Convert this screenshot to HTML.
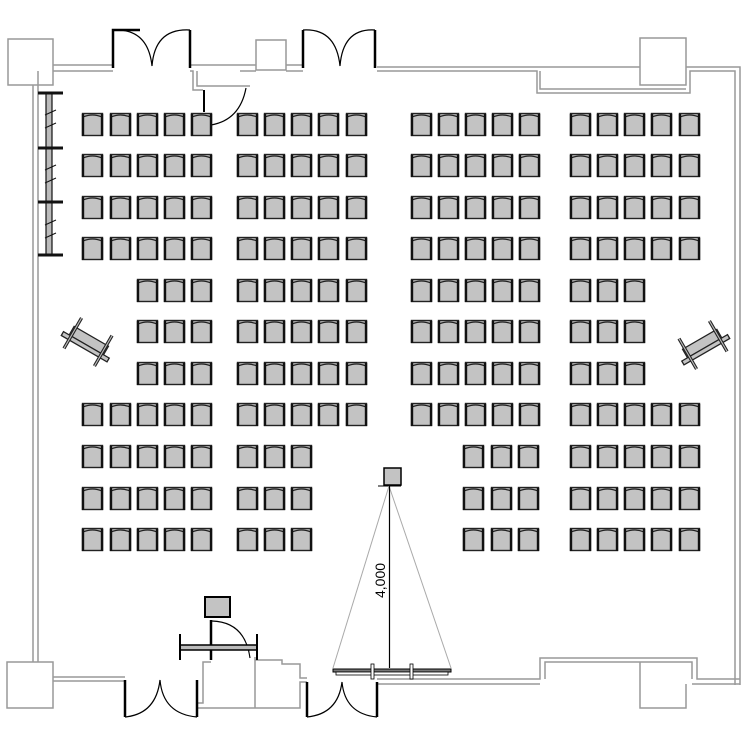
<!DOCTYPE html>
<html><head><meta charset="utf-8"><style>html,body{margin:0;padding:0;background:#fff}svg{display:block}</style></head>
<body>
<svg id="s" xmlns="http://www.w3.org/2000/svg" xmlns:xlink="http://www.w3.org/1999/xlink" width="750" height="750" viewBox="0 0 750 750">
<defs>
<g id="ch">
<rect x="0.5" y="1.5" width="20" height="22" fill="#c3c3c3" stroke="#222" stroke-width="1.4"/>
<path d="M1,5 Q10.5,1 20,5" fill="none" stroke="#222" stroke-width="1.2"/>
<line x1="1" y1="2" x2="1" y2="24" stroke="#111" stroke-width="2.4"/>
<line x1="20" y1="2" x2="20" y2="24" stroke="#111" stroke-width="2.4"/>
</g>
<g id="proj">
<rect x="-18" y="-6" width="36" height="9" fill="#c3c3c3" stroke="#222" stroke-width="1.2"/>
<rect x="-24" y="3" width="48" height="4" fill="#c3c3c3" stroke="#222" stroke-width="1.2"/>
<line x1="-16" y1="-16" x2="-16" y2="16" stroke="#222" stroke-width="3"/>
<line x1="-16" y1="-16" x2="-16" y2="16" stroke="#bbb" stroke-width="1"/>
<line x1="16" y1="-16" x2="16" y2="16" stroke="#222" stroke-width="3"/>
<line x1="16" y1="-16" x2="16" y2="16" stroke="#bbb" stroke-width="1"/>
</g>
</defs>
<g fill="none" stroke="#999" stroke-width="1.5">
<rect x="8" y="39" width="45" height="46"/>
<polyline points="53,65 113,65"/><polyline points="53,71 113,71"/>
<polyline points="33,85 33,662"/>
<polyline points="38,71 38,662"/>
<polyline points="190,65 256,65"/>
<polyline points="190,71 193,71 193,90 203,90"/>
<polyline points="197,71 197,86 250,86"/>
<polyline points="240,71 256,71"/>
<rect x="256" y="40" width="30" height="30"/>
<polyline points="286,65 303,65"/><polyline points="286,71 303,71"/>
<polyline points="377,67 640,67"/><polyline points="377,71 537,71 537,93 690,93 690,71 735,71 735,685"/>
<polyline points="540,71 540,89 686,89"/>
<rect x="640" y="38" width="46" height="47"/>
<polyline points="686,67 740,67 740,685"/>
<rect x="7" y="662" width="46" height="46"/>
<polyline points="53,677 125,677"/><polyline points="53,681 125,681"/>
<polyline points="197,708 300,708 300,682 307,682"/>
<polyline points="197,703 203,703 203,662 211,662"/>
<polyline points="255,660 282,660 282,664 300,664 300,678 307,678"/>
<polyline points="255,657 255,708"/>
<polyline points="377,679 540,679 540,658 697,658 697,679 740,679"/>
<polyline points="377,684 540,684"/>
<polyline points="545,679 545,662 692,662 692,679"/>
<polyline points="692,684 740,684"/>
<polyline points="640,662 640,708 686,708 686,684"/>
</g>
<g fill="none" stroke="#000">
<polyline points="113,68 113,30 140,30" stroke-width="2.5" fill="none"/>
<path d="M113,30 Q148,28 152,66 Q155,28 190,30" stroke-width="1.2"/>
<line x1="190" y1="30" x2="190" y2="68" stroke-width="2.5"/>
<line x1="303" y1="30" x2="303" y2="68" stroke-width="2.5"/>
<path d="M303,30 Q336,28 340,66 Q343,28 375,30" stroke-width="1.2"/>
<line x1="375" y1="30" x2="375" y2="68" stroke-width="2.5"/>
<line x1="204" y1="90" x2="204" y2="112" stroke-width="2"/>
<path d="M211,125 Q240,120 246,88" stroke-width="1.2"/>
<line x1="125" y1="680" x2="125" y2="717" stroke-width="2.5"/>
<path d="M125,717 Q156,714 160,680 Q163,714 197,717" stroke-width="1.2"/>
<line x1="197" y1="680" x2="197" y2="717" stroke-width="2.5"/>
<line x1="307" y1="682" x2="307" y2="717" stroke-width="2.5"/>
<path d="M307,717 Q338,714 342,682 Q345,714 377,717" stroke-width="1.2"/>
<line x1="377" y1="682" x2="377" y2="717" stroke-width="2.5"/>
</g>
<rect x="46" y="93" width="6" height="162" fill="#bbb" stroke="#111" stroke-width="1.2"/>
<g stroke="#111" stroke-width="3">
<line x1="38" y1="93" x2="63" y2="93"/><line x1="38" y1="148" x2="63" y2="148"/>
<line x1="38" y1="202" x2="63" y2="202"/><line x1="38" y1="255" x2="63" y2="255"/>
</g>
<g stroke="#111" stroke-width="1">
<line x1="45" y1="115" x2="56" y2="110"/><line x1="45" y1="128" x2="56" y2="123"/>
<line x1="45" y1="170" x2="56" y2="165"/><line x1="45" y1="183" x2="56" y2="178"/>
<line x1="45" y1="225" x2="56" y2="220"/><line x1="45" y1="238" x2="56" y2="233"/>
</g>
<use xlink:href="#proj" transform="translate(88,342) rotate(30) scale(1.1)"/>
<use xlink:href="#proj" transform="translate(703,345) rotate(-30) scale(1.1)"/>
<rect x="205" y="597" width="25" height="20" fill="#c3c3c3" stroke="#000" stroke-width="2"/>
<line x1="211" y1="620" x2="211" y2="660" stroke="#000" stroke-width="2.5"/>
<path d="M212,621 Q245,622 250,658" fill="none" stroke="#000" stroke-width="1.2"/>
<rect x="180" y="645" width="77" height="5" fill="#bbb" stroke="#000" stroke-width="1.5"/>
<line x1="180" y1="634" x2="180" y2="660" stroke="#000" stroke-width="2"/>
<line x1="257" y1="634" x2="257" y2="660" stroke="#000" stroke-width="2"/>
<rect x="384" y="468" width="17" height="17" fill="#c3c3c3" stroke="#000" stroke-width="1.5"/>
<line x1="378" y1="486" x2="401" y2="486" stroke="#000" stroke-width="1"/>
<line x1="389" y1="486" x2="333" y2="668" stroke="#aaa" stroke-width="1"/>
<line x1="389" y1="486" x2="451" y2="668" stroke="#aaa" stroke-width="1"/>
<line x1="389.5" y1="486" x2="389.5" y2="668" stroke="#000" stroke-width="1.2"/>
<rect x="333" y="669" width="118" height="3" fill="#777" stroke="#000" stroke-width="1"/>
<rect x="336" y="672" width="112" height="3" fill="#fff" stroke="#000" stroke-width="0.8"/>
<rect x="371" y="664" width="3" height="15" fill="#fff" stroke="#000" stroke-width="0.8"/>
<rect x="410" y="664" width="3" height="15" fill="#fff" stroke="#000" stroke-width="0.8"/>
<text x="0" y="0" transform="translate(385,598) rotate(-90)" font-family="Liberation Sans, sans-serif" font-size="14" fill="#000">4,000</text>
<g id="chairs"></g>
</svg>
<script>
var ys=[112,153,195,236,278,319,361,402,444,486,527];
var A=[82,110,137,164,191],B=[237,264,291,318,346],C=[411,438,465,492,519],D=[570,597,624,651,679];
var g=document.getElementById('chairs'),ns='http://www.w3.org/2000/svg';
function put(x,y){var u=document.createElementNS(ns,'use');u.setAttributeNS('http://www.w3.org/1999/xlink','href','#ch');u.setAttribute('x',x);u.setAttribute('y',y);g.appendChild(u);}
ys.forEach(function(y,i){
 var a=A,b=B,c=C,d=D;
 if(i>=4&&i<=6){a=A.slice(2);d=D.slice(0,3);}
 if(i>=8){b=B.slice(0,3);c=[463,491,518];}
 a.concat(b,c,d).forEach(function(x){put(x,y);});
});
</script>
</body></html>
